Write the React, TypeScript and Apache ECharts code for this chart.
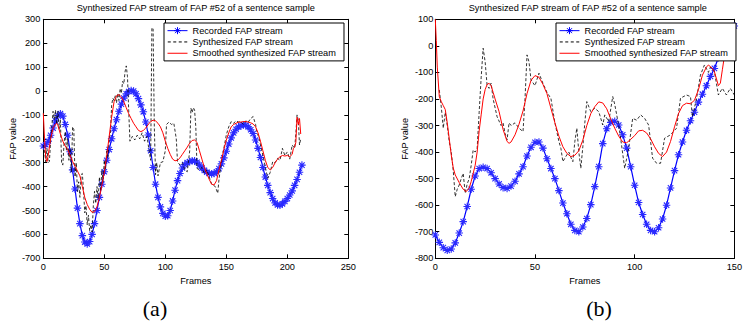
import React, { useEffect, useRef } from "react";
import * as echarts from "echarts";

// ---------- Chart (a) ----------
const recordedStepA = 2; // frames between recorded samples
const recordedA = [
  -230, -225, -210, -185, -155, -125, -103, -95, -105, -140, -185, -254, -330, -410, -490, -555,
  -605, -632, -640, -630, -600, -555, -500, -445, -390, -338, -290, -245, -200, -158, -120, -85,
  -55, -30, -12, -2, 2, 0, -12, -32, -58, -87, -130, -184, -250, -320, -390, -445,
  -485, -512, -524, -522, -500, -460, -415, -375, -345, -322, -308, -300, -295, -292, -292, -298,
  -310, -322, -332, -340, -345, -347, -345, -338, -325, -305, -280, -252, -222, -196, -175, -160,
  -150, -145, -142, -143, -150, -162, -178, -205, -240, -278, -320, -360, -395, -425, -450, -468,
  -477, -478, -472, -462, -450, -435, -418, -395, -370, -340, -310,
];

const synthesizedA: [number, number][] = [
  [0, -226], [1, -250], [2, -296], [3, -240], [4, -300], [5, -295], [6, -210], [7, -150], [8, -85], [9, -120],
  [10, -80], [11, -140], [12, -85], [13, -160], [14, -120], [15, -300], [16, -310], [17, -220], [18, -170], [19, -250],
  [20, -200], [21, -290], [22, -240], [23, -340], [24, -150], [25, -160], [26, -360], [27, -300], [28, -420], [29, -380],
  [30, -445], [31, -350], [32, -345], [33, -420], [34, -510], [35, -480], [36, -560], [37, -520], [38, -585], [39, -560],
  [40, -590], [41, -480], [42, -420], [43, -470], [44, -400], [45, -450], [46, -360], [47, -420], [48, -330], [49, -380],
  [50, -290], [51, -330], [52, -250], [53, -280], [54, -200], [55, -180], [56, -60], [57, -30], [58, -40], [59, -20],
  [60, -50], [61, -10], [62, -40], [63, 10], [64, -10], [65, 40], [66, 30], [67, 80], [68, 105], [69, 60],
  [70, -80], [71, -210], [72, -200], [73, -190], [75, -205], [77, -185], [79, -200], [81, -175], [83, -210], [85, -190],
  [87, -260], [88, -290], [89, 265], [90, 260], [91, -150], [92, -350], [93, -300], [94, -355], [96, -300], [98, -296],
  [100, -250], [101, -140], [103, -130], [105, -140], [107, -135], [109, -200], [110, -296], [112, -310], [114, -300], [116, -330],
  [118, -338], [120, -250], [121, -72], [122, -90], [123, -70], [124, -80], [125, -150], [126, -324], [128, -330], [130, -320],
  [132, -345], [134, -330], [136, -360], [138, -390], [139, -393], [141, -400], [143, -428], [144, -370], [146, -296], [148, -240],
  [150, -184], [152, -150], [154, -128], [156, -135], [158, -125], [160, -130], [162, -128], [164, -140], [166, -125], [168, -130],
  [170, -115], [172, -107], [174, -140], [175, -170], [177, -200], [179, -250], [180, -268], [182, -320], [184, -365], [186, -340],
  [188, -296], [190, -300], [192, -282], [194, -290], [196, -240], [198, -270], [200, -255], [202, -285], [204, -226], [206, -240],
  [207, -180], [208, -100], [209, -120], [210, -226], [211, -200],
];

const smoothedA: [number, number][] = [
  [0, -93], [1, -200], [2, -280], [3, -295], [4, -270], [6, -200], [8, -155], [10, -138], [11, -135], [12, -145],
  [14, -180], [16, -210], [18, -230], [20, -245], [22, -270], [24, -295], [26, -315], [28, -335], [30, -355], [32, -400],
  [34, -445], [36, -475], [38, -495], [40, -508], [42, -505], [44, -485], [46, -445], [48, -395], [50, -340], [52, -270],
  [54, -190], [56, -110], [58, -45], [60, -20], [62, -15], [64, -25], [66, -45], [68, -70], [70, -95], [72, -115],
  [74, -135], [76, -150], [78, -165], [80, -170], [82, -165], [84, -155], [86, -140], [88, -128], [90, -122], [92, -125],
  [94, -135], [96, -150], [98, -175], [100, -210], [102, -240], [104, -265], [106, -285], [108, -292], [110, -290], [112, -280],
  [114, -265], [116, -250], [118, -235], [120, -218], [122, -207], [124, -205], [126, -215], [128, -250], [130, -285], [132, -320],
  [134, -345], [136, -370], [138, -390], [140, -393], [142, -375], [144, -330], [146, -290], [148, -245], [150, -205], [152, -175],
  [154, -150], [156, -140], [158, -135], [160, -130], [162, -130], [164, -128], [166, -128], [168, -130], [170, -133], [172, -138],
  [174, -150], [176, -175], [178, -210], [180, -250], [182, -290], [184, -320], [186, -330], [188, -320], [190, -300], [192, -285],
  [194, -275], [196, -270], [198, -272], [200, -270], [202, -275], [204, -265], [205, -240], [206, -235], [207, -215], [208, -110],
  [209, -140], [210, -115], [211, -180],
];

// ---------- Chart (b) ----------
const recordedStepB = 2;
const recordedB = [
  -712, -740, -760, -770, -765, -742, -705, -662, -605, -540, -490, -462, -457, -462, -478, -500,
  -520, -534, -537, -528, -510, -482, -455, -415, -382, -363, -362, -385, -425, -462, -500, -545,
  -592, -632, -672, -695, -700, -682, -650, -598, -530, -455, -368, -312, -288, -284, -298, -335,
  -385, -455, -525, -590, -635, -672, -695, -700, -685, -652, -600, -535, -470, -410, -362, -318,
  -282, -250, -212, -182, -150, -115, -85, -45, -10, 22, 52, 75,
];

const synthesizedB: [number, number][] = [
  [2, -166], [3, -230], [4, -310], [5, -250], [6, -300], [7, -361], [8, -400], [9, -470], [10, -568], [11, -540],
  [12, -524], [13, -500], [14, -480], [15, -555], [16, -520], [17, -500], [18, -450], [19, -392], [20, -400], [21, -386],
  [22, -250], [23, -120], [24, -9], [25, -60], [26, -150], [27, -160], [28, -140], [29, -200], [31, -267], [33, -300],
  [34, -290], [35, -330], [36, -354], [37, -290], [38, -300], [40, -290], [42, -310], [44, -323], [45, -200], [46, -34],
  [47, -60], [48, -128], [50, -150], [52, -103], [54, -141], [56, -175], [58, -198], [60, -290], [62, -360], [63, -386],
  [64, -436], [66, -410], [67, -400], [68, -420], [69, -436], [70, -360], [71, -310], [72, -400], [73, -461], [74, -380],
  [75, -290], [76, -210], [78, -248], [80, -235], [82, -248], [84, -298], [85, -260], [87, -285], [89, -191], [90, -220],
  [92, -300], [93, -350], [95, -461], [97, -386], [99, -273], [101, -280], [103, -260], [105, -273], [107, -298], [109, -423],
  [111, -442], [113, -442], [115, -348], [118, -335], [121, -310], [123, -197], [126, -185], [128, -191], [129, -267], [131, -200],
  [133, -110], [135, -72], [137, -100], [138, -80], [140, -97], [142, -185], [144, -160], [146, -185], [148, -160], [150, -185],
];

const smoothedB: [number, number][] = [
  [0, 100], [0.5, 20], [1, -80], [2, -191], [3, -210], [4, -225], [5, -240], [6, -290], [7, -350], [8, -411],
  [9, -460], [10, -486], [12, -515], [14, -540], [15.5, -549], [17, -535], [18, -511], [20, -450], [21, -400], [22, -320],
  [23, -260], [24, -200], [25, -165], [26, -145], [27, -141], [28, -150], [29, -175], [30, -200], [32, -248], [34, -315],
  [36, -360], [37, -367], [38, -362], [40, -335], [42, -295], [44, -245], [46, -180], [48, -130], [50, -112], [52, -118],
  [54, -145], [56, -180], [58, -235], [60, -290], [62, -340], [64, -380], [66, -405], [68, -417], [70, -412], [72, -395],
  [74, -355], [76, -300], [78, -255], [80, -229], [82, -211], [84, -215], [86, -237], [88, -275], [90, -310], [92, -340],
  [94, -362], [96, -365], [98, -352], [100, -338], [102, -320], [104, -318], [106, -328], [108, -350], [110, -380], [112, -405],
  [114, -417], [116, -400], [118, -360], [120, -305], [122, -255], [124, -225], [126, -216], [128, -218], [130, -205], [132, -165],
  [134, -110], [136, -80], [137, -72], [139, -85], [140, -97], [142, -150], [143, -140], [144, -90], [145, -40], [146, -20],
  [147, 10], [148, -20], [149, -40], [150, -28],
];

// ---------- Texts / axes ----------
const titleText = "Synthesized FAP stream of FAP #52 of a sentence sample";
const seriesNames = ["Recorded FAP stream", "Synthesized FAP stream", "Smoothed synthesized FAP stream"];
const xRangeA = { min: 0, max: 250, interval: 50 };
const yRangeA = { min: -700, max: 300, interval: 100 };
const xRangeB = { min: 0, max: 150, interval: 50 };
const yRangeB = { min: -800, max: 100, interval: 100 };
const xName = "Frames";
const yName = "FAP value";
const captions = ["(a)", "(b)"];

const FONT = "'Liberation Sans', Arial, Helvetica, sans-serif";
const SERIF = "'Liberation Serif', 'Times New Roman', serif";
const STAR = "path://M0,-5L0,5M-5,0L5,0M-3.6,-3.6L3.6,3.6M3.6,-3.6L-3.6,3.6";
const ICON_STAR_LINE =
  "path://M0,0L0,0M0,10L0,10M0,5L20,5M10,1.5L10,8.5M6.5,5L13.5,5M7.5,2.5L12.5,7.5M12.5,2.5L7.5,7.5";
const ICON_DASH = "path://M0,0L0,0M0,10L0,10M0,5L3,5M5.5,5L8.5,5M11,5L14,5M16.5,5L19.5,5";
const ICON_LINE = "path://M0,0L0,0M0,10L0,10M0,5L20,5";

function buildOption() {
  const recA = recordedA.map((v, i) => [i * recordedStepA, v]);
  const recB = recordedB.map((v, i) => [i * recordedStepB, v]);

  const gridBoxes = [
    { left: 43.3, top: 19.3, width: 305, height: 239 },
    { left: 435.3, top: 19.3, width: 305, height: 239 },
  ];

  const axisLine = { show: true, onZero: false, lineStyle: { color: "#000", width: 1 } };
  const axisTick = { show: true, inside: true, length: 4, lineStyle: { color: "#000", width: 1 } };
  const labelStyle = { color: "#000", fontSize: 9.2, fontFamily: FONT };

  const xAxes: any[] = [];
  const yAxes: any[] = [];
  [xRangeA, xRangeB].forEach((r, g) => {
    xAxes.push({
      type: "value", gridIndex: g, position: "bottom", ...r,
      axisLine, axisTick, splitLine: { show: false },
      axisLabel: { ...labelStyle, margin: 4 },
      name: xName, nameLocation: "middle", nameGap: 13,
      nameTextStyle: { color: "#000", fontSize: 9.2, fontFamily: FONT },
    });
    xAxes.push({
      type: "value", gridIndex: g, position: "top", ...r,
      axisLine, axisTick, splitLine: { show: false }, axisLabel: { show: false },
    });
  });
  [yRangeA, yRangeB].forEach((r, g) => {
    yAxes.push({
      type: "value", gridIndex: g, position: "left", ...r,
      axisLine, axisTick, splitLine: { show: false },
      axisLabel: { ...labelStyle, margin: g === 0 ? 3 : 2 },
      name: yName, nameLocation: "middle", nameGap: 26, nameRotate: 90,
      nameTextStyle: { color: "#000", fontSize: 9.2, fontFamily: FONT },
    });
    yAxes.push({
      type: "value", gridIndex: g, position: "right", ...r,
      axisLine, axisTick, splitLine: { show: false }, axisLabel: { show: false },
    });
  });

  const mkSeries = (xi: number, yi: number, rec: any[], syn: any[], smo: any[]) => [
    {
      name: seriesNames[0], type: "line", xAxisIndex: xi, yAxisIndex: yi, data: rec,
      symbol: STAR, symbolSize: 7.5, showAllSymbol: true,
      lineStyle: { color: "#0000ff", width: 1.2 },
      itemStyle: { color: "rgba(0,0,0,0)", borderColor: "#2a2aff", borderWidth: 1.1 },
      z: 2,
    },
    {
      name: seriesNames[1], type: "line", xAxisIndex: xi, yAxisIndex: yi, data: syn,
      symbol: "none",
      lineStyle: { color: "#000", width: 0.8, type: [3, 2] },
      itemStyle: { color: "#000" },
      z: 3,
    },
    {
      name: seriesNames[2], type: "line", xAxisIndex: xi, yAxisIndex: yi, data: smo,
      symbol: "none",
      lineStyle: { color: "#ff0000", width: 1 },
      itemStyle: { color: "#ff0000" },
      z: 4,
    },
  ];

  const legendData = [
    { name: seriesNames[0], icon: ICON_STAR_LINE, itemStyle: { color: "rgba(0,0,0,0)", borderColor: "#0000ff", borderWidth: 1 } },
    { name: seriesNames[1], icon: ICON_DASH, itemStyle: { color: "rgba(0,0,0,0)", borderColor: "#000", borderWidth: 1 } },
    { name: seriesNames[2], icon: ICON_LINE, itemStyle: { color: "rgba(0,0,0,0)", borderColor: "#ff0000", borderWidth: 1 } },
  ];

  const legendBase = {
    orient: "vertical", top: 23, itemWidth: 20, itemHeight: 10, itemGap: 0,
    padding: [2, 8, 2, 3], borderColor: "#000", borderWidth: 1, backgroundColor: "#fff",
    selectedMode: false, data: legendData,
    textStyle: { color: "#000", fontSize: 9.2, fontFamily: FONT, lineHeight: 11.3 },
    z: 10,
  };

  const titleStyle = { fill: "#000", font: `9.2px ${FONT}`, align: "center", verticalAlign: "middle" };
  const capStyle = { fill: "#000", font: `22px ${SERIF}`, align: "center", verticalAlign: "middle" };

  return {
    animation: false,
    grid: gridBoxes,
    xAxis: xAxes,
    yAxis: yAxes,
    legend: [
      { ...legendBase, left: 164 },
      { ...legendBase, left: 556 },
    ],
    series: [...mkSeries(0, 0, recA, synthesizedA, smoothedA), ...mkSeries(2, 2, recB, synthesizedB, smoothedB)],
    graphic: [
      { type: "text", x: 195.8, y: 8.3, style: { text: titleText, ...titleStyle } },
      { type: "text", x: 587.8, y: 8.3, style: { text: titleText, ...titleStyle } },
      { type: "text", x: 155, y: 308, style: { text: captions[0], ...capStyle } },
      { type: "text", x: 599, y: 308, style: { text: captions[1], ...capStyle } },
    ],
  };
}

export default function App() {
  const ref = useRef<HTMLDivElement>(null);
  useEffect(() => {
    if (!ref.current) return;
    const chart = echarts.init(ref.current, undefined, { renderer: "svg" });
    chart.setOption(buildOption() as any);
    return () => chart.dispose();
  }, []);
  return (
    <div
      ref={ref}
      style={{ position: "fixed", left: 0, top: 0, width: 745, height: 325, background: "#fff" }}
    />
  );
}
